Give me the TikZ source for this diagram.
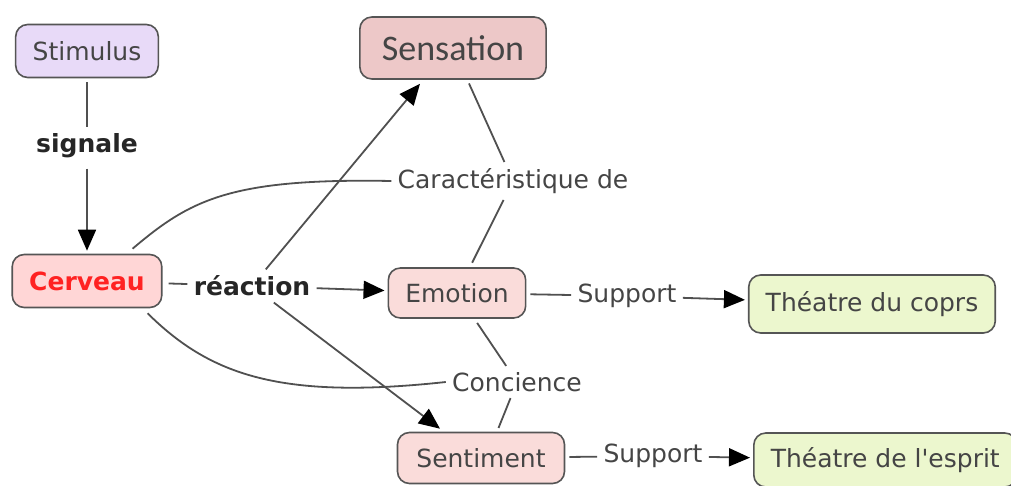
\documentclass[tikz,border=0pt]{standalone}
\usepackage{fontspec}
\setmainfont{DejaVu Sans}
\newfontfamily\calibfont{Carlito}
\usetikzlibrary{arrows.meta}
\definecolor{txtgray}{HTML}{454545}
\definecolor{boxline}{HTML}{555555}
\definecolor{linkline}{HTML}{505050}
\definecolor{stimfill}{HTML}{E8DAF8}
\definecolor{sensfill}{HTML}{EDC8C8}
\definecolor{cervfill}{HTML}{FFD6D6}
\definecolor{emofill}{HTML}{FADCDA}
\definecolor{theafill}{HTML}{ECF7CE}
\definecolor{cervred}{HTML}{FF2222}
\begin{document}
\begin{tikzpicture}[x=0.5pt,y=-0.5pt,
	concept/.style={draw=boxline,line width=0.8pt,rounded corners=6pt,inner xsep=8.5pt,minimum height=26.5pt,text=txtgray,font=\fontsize{12.5}{15}\selectfont},
	linkword/.style={inner sep=3pt,text=txtgray,font=\fontsize{12.5}{15}\selectfont},
	conn/.style={draw=linkline,line width=0.9pt},
	arr/.style={conn,-{Triangle[length=10.5pt,width=9pt,color=black]}}]
				\useasboundingbox[fill=white] (0,0) rectangle (1011,486);
				\node[concept,fill=stimfill] (stim) at (87,51) {Stimulus};
				\node[concept,fill=sensfill,inner xsep=11pt,minimum height=31pt,font=\calibfont\fontsize{18}{21}\selectfont] (sens) at (453,48) {Sensation};
				\node[concept,fill=cervfill,text=cervred,font=\bfseries\fontsize{12.5}{15}\selectfont] (cerv) at (87,281) {Cerveau};
				\node[concept,fill=emofill,minimum height=25pt] (emo) at (457,293) {Emotion};
				\node[concept,fill=emofill,minimum width=83.5pt,minimum height=25.5pt] (sent) at (481,458) {Sentiment};
				\node[concept,fill=theafill,minimum height=29pt] (corps) at (872,304) {Théatre du coprs};
				\node[concept,fill=theafill,minimum height=27pt,anchor=west] (esprit) at (753,460) {Théatre de l\textquotesingle esprit};
				\node[linkword,text=black!85,font=\bfseries\fontsize{12.5}{15}\selectfont] (signale) at (87,146) {signale};
				\node[linkword,text=black!85,font=\bfseries\fontsize{12.5}{15}\selectfont] (react) at (252,286) {réaction};
				\node[linkword] (carac) at (513,181) {Caractéristique de};
				\node[linkword] (supa) at (627,296) {Support};
				\node[linkword] (conc) at (517,382) {Concience};
				\node[linkword] (supb) at (653,456) {Support};
				\draw[conn,shorten <=2pt] (stim) -- (signale);
				\draw[arr,shorten <=2pt,shorten >=1.5pt] (signale) -- (cerv);
				\draw[conn,shorten <=3pt] (cerv) -- (react);
				\draw[arr,shorten >=1.5pt] (react) -- (emo);
				\draw[arr] (react) -- ([xshift=-16.5pt,yshift=-2pt]sens.south);
				\draw[arr] (react) -- ([xshift=-20.5pt,yshift=1.5pt]sent.north);
				\draw[conn] ([xshift=-15pt,yshift=2.5pt]cerv.north east) .. controls (190,200) and (230,178) .. (carac.west);
				\draw[conn,shorten >=2pt] (carac) -- (sens);
				\draw[conn,shorten >=2.5pt] (carac) -- (emo);
				\draw[conn] ([xshift=-7.5pt,yshift=-2.5pt]cerv.south east) .. controls (210,375) and (280,400) .. (conc.west);
				\draw[conn,shorten >=2.5pt] (conc) -- (emo);
				\draw[conn,shorten >=2pt] (conc) -- ([xshift=8pt]sent.north);
				\draw[conn,shorten <=2pt] (emo) -- (supa);
				\draw[arr,shorten >=1.5pt] (supa) -- (corps);
				\draw[conn,shorten <=2pt] (sent) -- (supb);
				\draw[arr,shorten >=1.5pt] (supb) -- (esprit);
			\end{tikzpicture}
\end{document}
